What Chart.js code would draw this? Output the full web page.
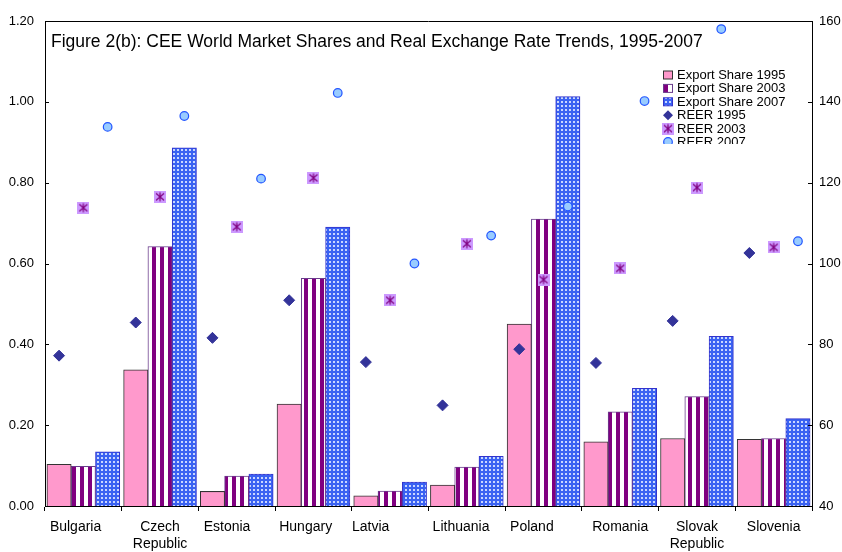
<!DOCTYPE html>
<html><head><meta charset="utf-8">
<script src="https://cdn.jsdelivr.net/npm/chart.js@4/dist/chart.umd.min.js"></script>
<style>html,body{margin:0;padding:0;background:#fff;}canvas{display:block;}</style>
</head><body>
<canvas id="c" width="842" height="552"></canvas>
<script>
const chartTitle = 'Figure 2(b): CEE World Market Shares and Real Exchange Rate Trends, 1995-2007';
const categories = ['Bulgaria    ', ['Czech', 'Republic'], 'Estonia     ', 'Hungary    ', 'Latvia          ', 'Lithuania   ', 'Poland      ', 'Romania', ['Slovak', 'Republic'], 'Slovenia'];
const seriesNames = ['Export Share 1995', 'Export Share 2003', 'Export Share 2007', 'REER 1995', 'REER 2003', 'REER 2007'];
const exportShare1995 = [0.103, 0.337, 0.036, 0.252, 0.025, 0.052, 0.450, 0.159, 0.167, 0.165];
const exportShare2003 = [0.098, 0.642, 0.074, 0.563, 0.037, 0.096, 0.710, 0.233, 0.271, 0.167];
const exportShare2007 = [0.134, 0.886, 0.079, 0.690, 0.059, 0.123, 1.013, 0.291, 0.420, 0.216];
const reer1995 = [77.2, 85.4, 81.6, 90.9, 75.6, 64.9, 78.8, 75.4, 85.8, 102.6];
const reer2003 = [113.8, 116.5, 109.1, 121.2, 90.9, 104.9, 96.0, 98.8, 118.8, 104.0];
const reer2007 = [133.8, 136.5, 121.0, 142.2, 100.0, 106.9, 114.1, 140.2, 158.0, 105.5];
const leftAxis = {min: 0, max: 1.2, step: 0.2};
const rightAxis = {min: 40, max: 160, step: 20};

const FONT = "'Liberation Sans', Arial, sans-serif";
const GROUP_PCT = 0.95;           // share of a category taken by its three bars
const SHIFT = GROUP_PCT / 3;      // offset of the outer bars from the category centre

function makePattern(w, h, draw) {
  const c = document.createElement('canvas');
  c.width = w; c.height = h;
  const g = c.getContext('2d');
  draw(g);
  return document.getElementById('c').getContext('2d').createPattern(c, 'repeat');
}
const purpleStripes = makePattern(8, 8, g => {
  g.fillStyle = '#ffffff'; g.fillRect(0, 0, 8, 8);
  g.fillStyle = '#800080'; g.fillRect(0, 0, 4, 8);
});
const blueDots = makePattern(4, 4, g => {
  g.fillStyle = '#3a62f2'; g.fillRect(0, 0, 4, 4);
  g.fillStyle = '#c9d6ff'; g.fillRect(1, 1, 2, 2);
});
const starMarker = (() => {
  const c = document.createElement('canvas');
  c.width = 12; c.height = 12;
  const g = c.getContext('2d');
  g.fillStyle = '#cc99ff'; g.fillRect(0, 0, 12, 12);
  g.strokeStyle = '#800080'; g.lineWidth = 1.2;
  g.beginPath();
  g.moveTo(6, 1.5); g.lineTo(6, 10.5);
  g.moveTo(2, 2.5); g.lineTo(10, 9.5);
  g.moveTo(10, 2.5); g.lineTo(2, 9.5);
  g.stroke();
  return c;
})();

const pts = (arr, off) => arr.map((v, i) => ({x: i + off, y: v}));

const barCommon = {type: 'bar', borderWidth: 1, xAxisID: 'xp', yAxisID: 'y', order: 2, grouped: false, categoryPercentage: 1, barPercentage: 1};
const pointCommon = {type: 'line', showLine: false, xAxisID: 'xp', yAxisID: 'y2', order: 1};

const datasets = [
  {...barCommon, label: seriesNames[0], data: pts(exportShare1995, -SHIFT), backgroundColor: '#ff99cc', borderColor: '#333333'},
  {...barCommon, label: seriesNames[1], data: pts(exportShare2003, 0), backgroundColor: purpleStripes, borderColor: '#6a3c8c'},
  {...barCommon, label: seriesNames[2], data: pts(exportShare2007, SHIFT), backgroundColor: blueDots, borderColor: '#3333cc'},
  {...pointCommon, label: seriesNames[3], data: pts(reer1995, -SHIFT), pointStyle: 'rectRot', pointRadius: 5.5, pointBackgroundColor: '#333399', pointBorderColor: '#333399', pointBorderWidth: 1},
  {...pointCommon, label: seriesNames[4], data: pts(reer2003, 0), pointStyle: starMarker, pointRadius: 6},
  {...pointCommon, label: seriesNames[5], data: pts(reer2007, SHIFT), pointStyle: 'circle', pointRadius: 4.3, pointBackgroundColor: '#99ccff', pointBorderColor: '#2255ff', pointBorderWidth: 1.2}
];

const framePlugin = {
  id: 'frame',
  afterDraw(chart) {
    const ctx = chart.ctx, a = chart.chartArea;
    ctx.save();
    ctx.strokeStyle = '#000'; ctx.lineWidth = 1;
    ctx.beginPath();
    ctx.moveTo(a.left, a.top + 0.5); ctx.lineTo(a.right, a.top + 0.5);
    const yl = chart.scales.y, yr = chart.scales.y2;
    yl.ticks.forEach((t, i) => { const p = Math.round(yl.getPixelForTick(i)) + 0.5; ctx.moveTo(a.left, p); ctx.lineTo(a.left + 4, p); });
    yr.ticks.forEach((t, i) => { const p = Math.round(yr.getPixelForTick(i)) + 0.5; ctx.moveTo(a.right, p); ctx.lineTo(a.right - 4, p); });
    ctx.stroke();
    ctx.fillStyle = '#000';
    ctx.font = '17.5px ' + FONT;
    ctx.textBaseline = 'alphabetic';
    ctx.textAlign = 'left';
    ctx.fillText(chartTitle, a.left + 6, a.top + 26);
    ctx.beginPath();
    ctx.rect(655, 64, 150, 80);
    ctx.clip();
    ctx.font = '13px ' + FONT;
    ctx.textBaseline = 'middle';
    const x0 = 668, tx = 677, y0 = 75, dy = 13.4;
    chart.data.datasets.forEach((ds, i) => {
      const y = y0 + i * dy;
      if (ds.type === 'bar') {
        ctx.fillStyle = ds.backgroundColor;
        ctx.fillRect(x0 - 4.5, y - 4, 9, 8);
        ctx.strokeStyle = ds.borderColor; ctx.lineWidth = 1;
        ctx.strokeRect(x0 - 4.5, y - 4, 9, 8);
      } else if (ds.pointStyle === 'rectRot') {
        ctx.fillStyle = ds.pointBackgroundColor;
        ctx.beginPath();
        ctx.moveTo(x0, y - 5); ctx.lineTo(x0 + 5, y); ctx.lineTo(x0, y + 5); ctx.lineTo(x0 - 5, y); ctx.closePath();
        ctx.fill();
      } else if (ds.pointStyle === 'circle') {
        ctx.fillStyle = ds.pointBackgroundColor; ctx.strokeStyle = ds.pointBorderColor; ctx.lineWidth = 1.2;
        ctx.beginPath(); ctx.arc(x0, y, 4.3, 0, Math.PI * 2); ctx.fill(); ctx.stroke();
      } else {
        ctx.drawImage(ds.pointStyle, x0 - 6, y - 6, 12, 12);
      }
      ctx.fillStyle = '#000';
      ctx.fillText(ds.label, tx, y + 0.5);
    });
    ctx.restore();
  }
};

new Chart(document.getElementById('c'), {
  type: 'bar',
  data: {labels: categories, datasets},
  options: {
    responsive: false,
    animation: false,
    events: [],
    layout: {padding: {top: 21, left: 0, right: 0, bottom: 0}},
    plugins: {legend: {display: false}, tooltip: {enabled: false}, title: {display: false}},
    scales: {
      x: {
        type: 'category', position: 'bottom', offset: true,
        grid: {offset: true, drawOnChartArea: false, drawTicks: true, tickLength: 5, color: '#000'},
        border: {display: true, color: '#000', width: 1},
        ticks: {color: '#000', font: {family: FONT, size: 14}, padding: 8, maxRotation: 0, autoSkip: false},
        afterFit: s => { s.height = 46; }
      },
      xp: {type: 'linear', position: 'bottom', display: false, min: -0.5, max: 9.5, offset: false},
      y: {
        type: 'linear', position: 'left', min: leftAxis.min, max: leftAxis.max,
        grid: {display: false, drawTicks: false},
        border: {display: true, color: '#000', width: 1},
        ticks: {stepSize: leftAxis.step, color: '#000', font: {family: FONT, size: 13}, padding: 11, callback: v => Number(v).toFixed(2)},
        afterFit: s => { s.width = 45; }
      },
      y2: {
        type: 'linear', position: 'right', min: rightAxis.min, max: rightAxis.max,
        grid: {display: false, drawTicks: false},
        border: {display: true, color: '#000', width: 1},
        ticks: {stepSize: rightAxis.step, color: '#000', font: {family: FONT, size: 13}, padding: 7},
        afterFit: s => { s.width = 30; }
      }
    }
  },
  plugins: [framePlugin]
});
</script>
</body></html>
